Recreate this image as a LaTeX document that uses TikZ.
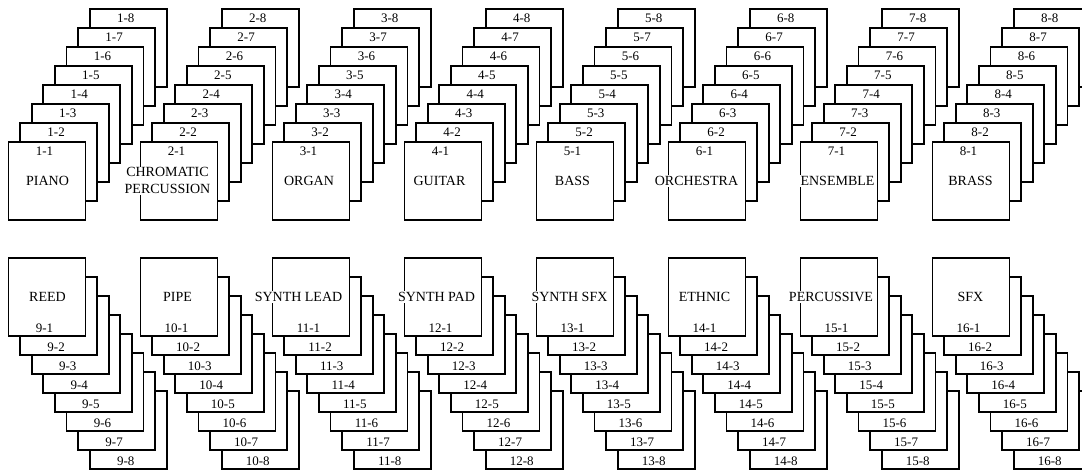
\documentclass[tikz,border=0pt]{standalone}
\usepackage{fontspec}
\setmainfont{Liberation Serif}
\usetikzlibrary{positioning}

\tikzset{
  card/.style={draw, fill=white, line width=1.8pt, minimum width=77pt, minimum height=78pt, inner sep=0pt, anchor=north west},
  num/.style={font=\fontsize{13}{14}\selectfont, inner sep=0pt},
  kind/.style={font=\fontsize{14}{17}\selectfont, fill=white, inner sep=1pt, align=center},
}

\begin{document}
\begin{tikzpicture}[x=1pt,y=-1pt]
\useasboundingbox (0,0) rectangle (1082,475);
\clip (0,0) rectangle (1082,475);

% upper row: cards stack up and to the right
\foreach \g/\name/\off in {1/PIANO/40, 2/{CHROMATIC\\PERCUSSION}/28, 3/ORGAN/37.5, 4/GUITAR/36, 5/BASS/37, 6/ORCHESTRA/29, 7/ENSEMBLE/38, 8/BRASS/39} {
  \foreach \k in {8,...,1} {
    \node[card] (t\g-\k) at ({7.5+132*(\g-1)+11.6*(\k-1)}, {141-19*(\k-1)}) {};
    \node[num] at ([xshift=37pt,yshift=-10pt]t\g-\k.north west) {\g-\k};
  }
  \node[kind] at ([xshift=\off pt]t\g-1.west) {\name};
}

% lower row: cards stack down and to the right
\foreach \g/\name/\off in {9/REED/40, 10/PIPE/38, 11/SYNTH LEAD/27, 12/SYNTH PAD/33, 13/SYNTH SFX/34, 14/ETHNIC/37, 15/PERCUSSIVE/31.5, 16/SFX/39} {
  \foreach \k in {8,...,1} {
    \node[card] (b\g-\k) at ({7.5+132*(\g-9)+11.6*(\k-1)}, {257+19*(\k-1)}) {};
    \node[num] at ([xshift=37pt,yshift=9pt]b\g-\k.south west) {\g-\k};
  }
  \node[kind] at ([xshift=\off pt]b\g-1.west) {\name};
}
\end{tikzpicture}
\end{document}
